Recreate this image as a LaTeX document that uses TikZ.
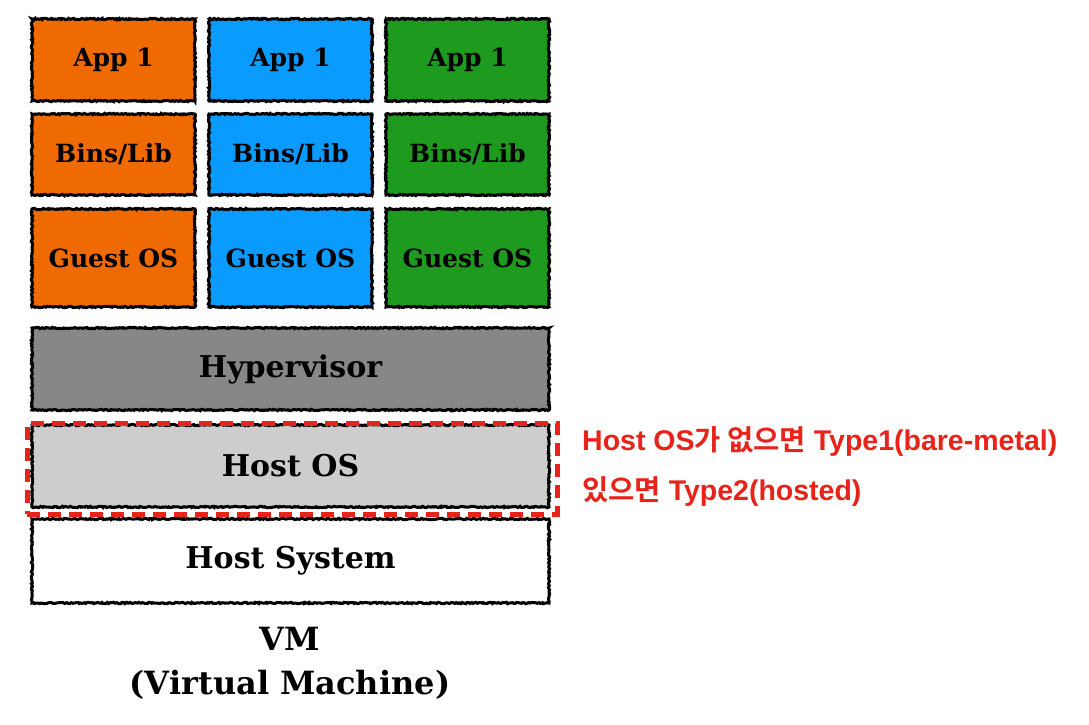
\documentclass[tikz,border=0pt]{standalone}
\usepackage{fontspec}
\setmainfont{DejaVu Serif}
\newfontfamily\redsans[BoldFont={Liberation Sans Bold}]{Liberation Sans}
\newfontfamily\cjk[BoldFont={Noto Sans CJK KR Bold}]{Noto Sans CJK KR}
\usetikzlibrary{decorations.pathmorphing}
\definecolor{cOrange}{HTML}{EF6A00}
\definecolor{cBlue}{HTML}{0A9BFF}
\definecolor{cGreen}{HTML}{1E9A1E}
\definecolor{cHyper}{HTML}{878787}
\definecolor{cHostOS}{HTML}{CDCDCD}
\definecolor{cRed}{HTML}{E8231A}
\tikzset{
  layer/.style={draw=black, line width=3pt, inner sep=0pt, outer sep=0pt,
    decorate, decoration={random steps, segment length=1.5pt, amplitude=0.7pt},
    font=\bfseries\fontsize{25}{30}\selectfont, text=black},
  big/.style={layer, font=\bfseries\fontsize{30}{36}\selectfont},
  note/.style={text=cRed, font=\fontsize{28.5}{30}\selectfont\redsans\bfseries, anchor=west, inner sep=0pt}
}
\begin{document}
\begin{tikzpicture}[x=1pt,y=-1pt]
\useasboundingbox (0,0) rectangle (1089,725);
\fill[white] (0,0) rectangle (1089,725);
% columns
\foreach \c/\x/\col in {a/32/cOrange, b/209/cBlue, c/386/cGreen}{
  \node[layer, fill=\col, minimum width=163pt, minimum height=82pt, anchor=north west] (app\c) at (\x,19) {App 1};
  \node[layer, fill=\col, minimum width=163pt, minimum height=81pt, anchor=north west] (bins\c) at (\x,114) {Bins/Lib};
  \node[layer, fill=\col, minimum width=163pt, minimum height=98pt, anchor=north west] (guest\c) at (\x,209) {Guest OS};
}
\node[big, fill=cHyper, minimum width=517pt, minimum height=82pt, anchor=north west] (hyper) at (32,328) {Hypervisor};
\node[big, fill=cHostOS, minimum width=517pt, minimum height=82pt, anchor=north west] (hostos) at (32,425) {Host OS};
\node[big, fill=white, minimum width=517pt, minimum height=84pt, anchor=north west] (hostsys) at (32,519) {Host System};
\node[draw=cRed, line width=4.5pt, dash pattern=on 13pt off 8pt, minimum width=530pt, minimum height=91pt, anchor=north west, inner sep=0pt] (dash) at (25,421) {};
\node[note] (n1) at (582,441) {Host OS{\cjk\bfseries 가 없으면} Type1(bare-metal)};
\node[note] (n2) at (582,492) {{\cjk\bfseries 있으면} Type2(hosted)};
\node[font=\bfseries\fontsize{32}{44}\selectfont, align=center, inner sep=0pt] (vm) at (290,663) {VM\\(Virtual Machine)};
\end{tikzpicture}
\end{document}
